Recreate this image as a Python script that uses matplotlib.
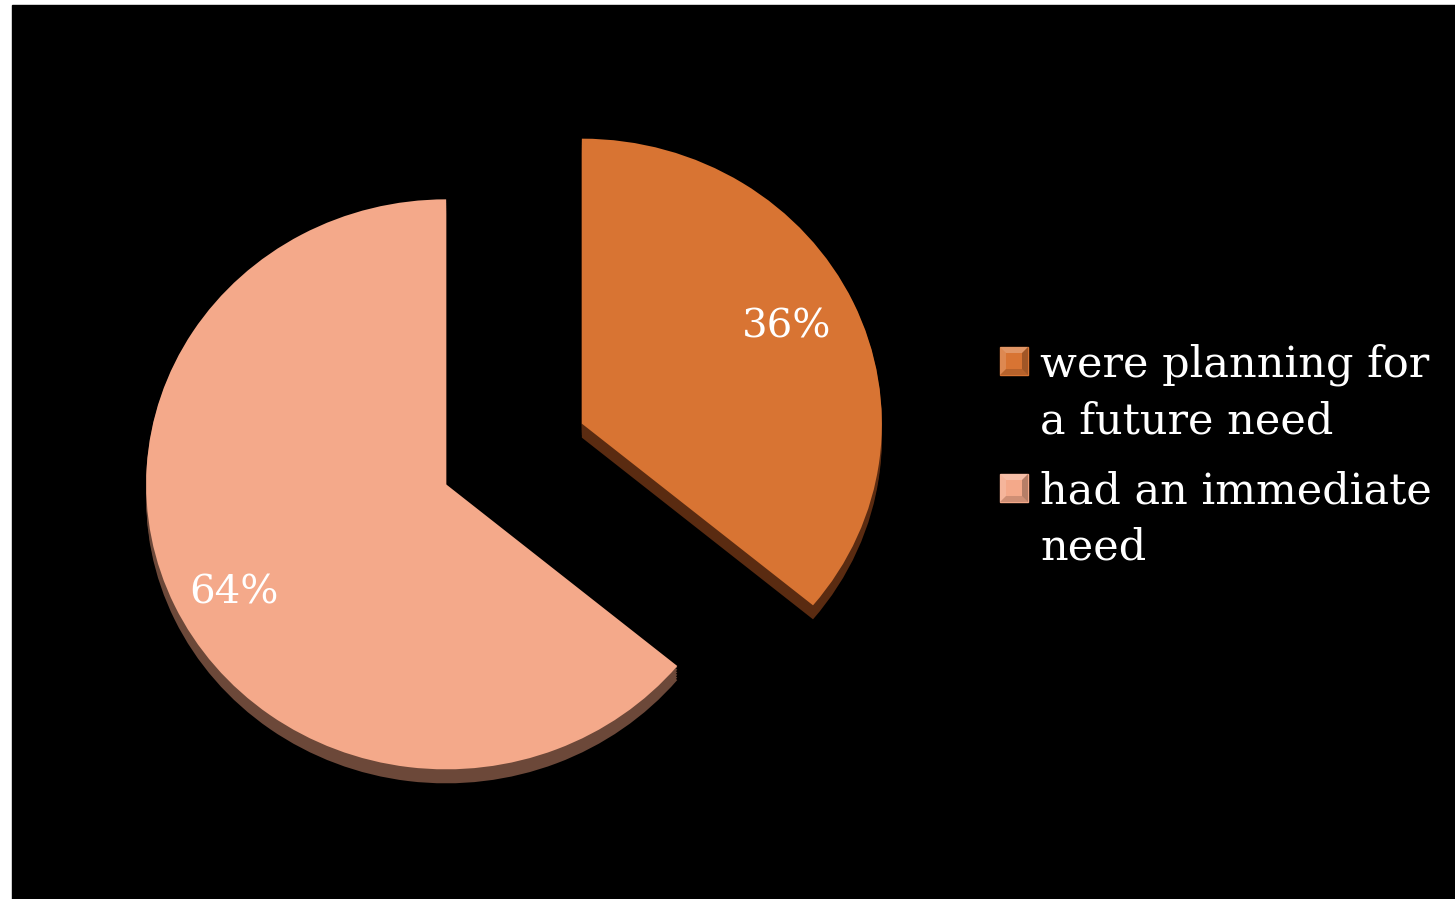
import matplotlib.pyplot as plt
from matplotlib.patches import Rectangle, Polygon
import numpy as np

# survey answers
labels = ["were planning for\na future need", "had an immediate\nneed"]
shares = [36, 64]

top_colors = ["#D87433", "#F4A98A"]
side_colors = ["#5A2B11", "#6C4839"]

W, H = 1455, 899
fig = plt.figure(figsize=(W / 100, H / 100), dpi=100, facecolor="white")

# black backdrop with a thin white margin on the left and top
fig.patches.append(Rectangle((12 / W, 0), 1 - 12 / W, (H - 5) / H,
                             transform=fig.transFigure, color="black", zorder=-5))

# one data unit = 300 px across and 285 px down, so the pie looks tilted
RX, RY = 300.0, 285.0
ax = fig.add_axes([0, 0, 1, 1])
ax.patch.set_alpha(0)

cx, cy = 514 / RX, (H - 454) / RY
explode = [0.25, 0.25]
depth = 14 / RY

# side walls: stacked copies shifted downward
for k in np.linspace(depth, 0.004, 6):
    ax.pie(shares, colors=side_colors, startangle=90, counterclock=False,
           explode=explode, center=(cx, cy - k), radius=1.0,
           wedgeprops=dict(linewidth=0))

wedges, texts, autotexts = ax.pie(
    shares, colors=top_colors, startangle=90, counterclock=False,
    explode=explode, center=(cx, cy), radius=1.0, autopct="%d%%",
    pctdistance=0.78, wedgeprops=dict(linewidth=0),
    textprops=dict(color="white", fontsize=29, family="DejaVu Serif"))

# small nudges for the percentage labels
nudges = [(-7, 2), (0, -14)]
for t, (dx, dy) in zip(autotexts, nudges):
    x, y = t.get_position()
    t.set_position((x + dx / RX, y + dy / RY))

ax.set_aspect("auto")
ax.set_xlim(0, W / RX)
ax.set_ylim(0, H / RY)
ax.axis("off")

# legend drawn by hand: bevelled squares and serif text
leg_x = 1040
first_base = [377, 504]
line_step = 56
box = 28
for lab, col, base in zip(labels, top_colors, first_base):
    bx0 = 1000 / W
    by1 = (H - (base - 30)) / H
    bw, bh = box / W, box / H
    bx1, by0 = bx0 + bw, by1 - bh
    e = 6
    ex, ey = e / W, e / H
    fig.patches.append(Rectangle((bx0, by0), bw, bh, transform=fig.transFigure,
                                 color=col, zorder=3))
    bevels = [
        ([(bx0, by1), (bx1, by1), (bx1 - ex, by1 - ey), (bx0 + ex, by1 - ey)], "white", 0.25),
        ([(bx0, by0), (bx0, by1), (bx0 + ex, by1 - ey), (bx0 + ex, by0 + ey)], "white", 0.15),
        ([(bx1, by0), (bx1, by1), (bx1 - ex, by1 - ey), (bx1 - ex, by0 + ey)], "black", 0.25),
        ([(bx0, by0), (bx1, by0), (bx1 - ex, by0 + ey), (bx0 + ex, by0 + ey)], "black", 0.15),
    ]
    for pts, c, a in bevels:
        fig.patches.append(Polygon(pts, closed=True, transform=fig.transFigure,
                                   color=c, alpha=a, lw=0, zorder=4))
    for i, line in enumerate(lab.split("\n")):
        fig.text(leg_x / W, (H - (base + i * line_step)) / H, line,
                 color="white", fontsize=31, family="DejaVu Serif",
                 ha="left", va="baseline")

fig.savefig("out.png", dpi=100, facecolor="white")
